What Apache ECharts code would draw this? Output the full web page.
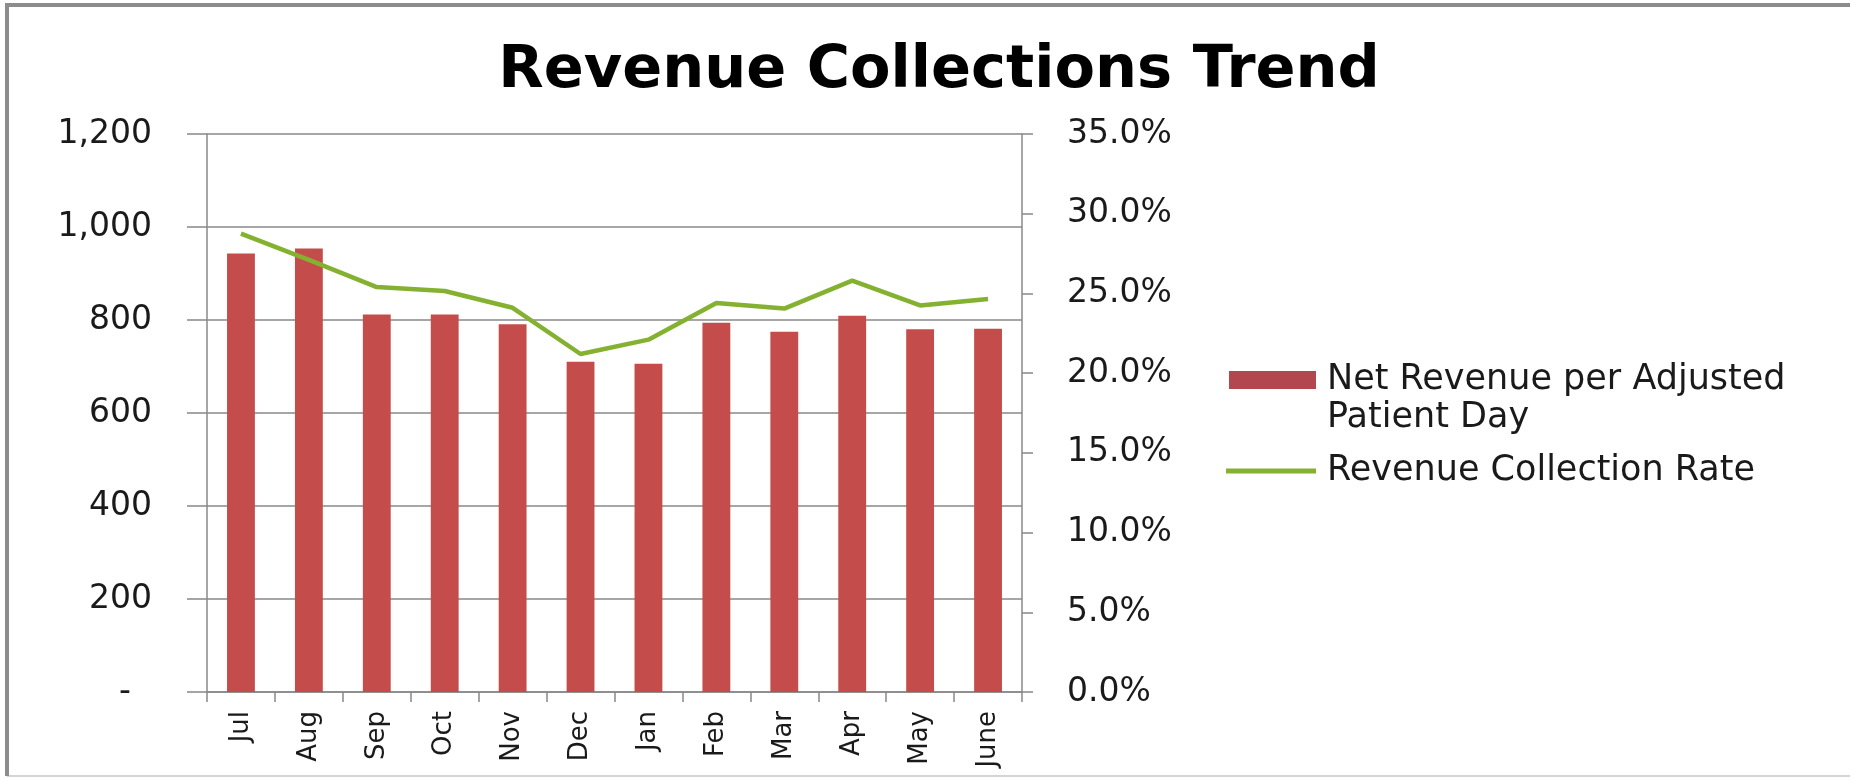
<!DOCTYPE html>
<html>
<head>
<meta charset="utf-8">
<title>Revenue Collections Trend</title>
<script src="https://cdn.jsdelivr.net/npm/echarts/dist/echarts.min.js"></script>
<style>
    html, body { margin: 0; padding: 0; background: #fff; }
    #revenue-chart { width: 1854px; height: 782px; }
</style>
</head>
<body>
<div id="revenue-chart"></div>
<script>
var months = ['Jul', 'Aug', 'Sep', 'Oct', 'Nov', 'Dec', 'Jan', 'Feb', 'Mar', 'Apr', 'May', 'June'];
// net revenue per adjusted patient day (left axis)
var netRevenue = [943, 954, 812, 812, 791, 710, 706, 794, 775, 809, 780, 781];
// revenue collection rate in % (right axis)
var collectionRate = [28.75, 27.1, 25.4, 25.15, 24.1, 21.2, 22.1, 24.4, 24.05, 25.8, 24.25, 24.65];
var leftTicks = [0, 200, 400, 600, 800, 1000, 1200];
var rightTicks = [0, 5, 10, 15, 20, 25, 30, 35];

var barName = 'Net Revenue per Adjusted Patient Day';
var lineName = 'Revenue Collection Rate';
var font = 'DejaVu Sans';

function initChart(){
    var myChart = echarts.init(document.getElementById('revenue-chart'));
    var option = {
        animation: false,
        backgroundColor: '#fff',
        title: {
            text: 'Revenue Collections Trend',
            left: 934,
            top: 37,
            textAlign: 'center',
            textStyle: {
                fontFamily: font,
                fontWeight: 'bold',
                fontSize: 59,
                color: '#000'
            }
        },
        legend: [
            {
                data: [{ name: barName, icon: 'rect', itemStyle: { color: '#b2474f' } }],
                orient: 'vertical',
                left: 1229,
                top: 323,
                padding: 0,
                itemWidth: 87,
                itemHeight: 18,
                formatter: function(){
                    // blank first line keeps the swatch level with the first text line
                    return ' \nNet Revenue per Adjusted\nPatient Day';
                },
                textStyle: {
                    fontFamily: font,
                    fontSize: 35,
                    lineHeight: 38,
                    color: '#1a1a1a',
                    padding: [0, 0, 0, 6]
                }
            },
            {
                data: [{ name: lineName, icon: 'rect' }],
                orient: 'vertical',
                left: 1226,
                top: 452,
                padding: 0,
                itemWidth: 90,
                itemHeight: 5,
                textStyle: {
                    fontFamily: font,
                    fontSize: 35,
                    lineHeight: 38,
                    color: '#1a1a1a',
                    padding: [0, 0, 0, 6]
                }
            }
        ],
        grid: {
            left: 207,
            right: 832,
            top: 134,
            bottom: 90,
            outerBoundsMode: 'none'
        },
        xAxis: {
            type: 'category',
            data: months,
            boundaryGap: true,
            axisLine: {
                lineStyle: { color: '#888', width: 1.5 }
            },
            axisTick: {
                show: true,
                length: 10,
                lineStyle: { color: '#888', width: 1.5 }
            },
            axisLabel: {
                rotate: 90,
                margin: 19,
                fontFamily: font,
                fontSize: 26,
                color: '#1a1a1a'
            }
        },
        yAxis: [
            {
                type: 'value',
                min: leftTicks[0],
                max: leftTicks[leftTicks.length - 1],
                interval: leftTicks[1] - leftTicks[0],
                axisLine: {
                    show: true,
                    lineStyle: { color: '#888', width: 1.5 }
                },
                axisTick: {
                    show: true,
                    length: 20,
                    lineStyle: { color: '#888', width: 1.5 }
                },
                splitLine: {
                    show: true,
                    lineStyle: { color: '#888', width: 1.5 }
                },
                axisLabel: {
                    margin: 55,
                    fontFamily: font,
                    fontSize: 33,
                    color: '#1a1a1a',
                    formatter: function(v){
                        if(v === 0){
                            return '-\u2007';
                        }
                        return v.toString().replace(/\B(?=(\d{3})+(?!\d))/g, ',');
                    }
                }
            },
            {
                type: 'value',
                position: 'right',
                min: rightTicks[0],
                max: rightTicks[rightTicks.length - 1],
                interval: rightTicks[1] - rightTicks[0],
                axisLine: {
                    show: true,
                    lineStyle: { color: '#888', width: 1.5 }
                },
                axisTick: {
                    show: true,
                    length: 11,
                    lineStyle: { color: '#888', width: 1.5 }
                },
                splitLine: { show: false },
                axisLabel: {
                    margin: 45,
                    fontFamily: font,
                    fontSize: 33,
                    color: '#1a1a1a',
                    formatter: function(v){
                        return v.toFixed(1) + '%';
                    }
                }
            }
        ],
        graphic: [
            {
                type: 'line',
                shape: { x1: 7, y1: 776, x2: 1850, y2: 776 },
                style: { stroke: '#d4d4d4', lineWidth: 2 }
            },
            {
                type: 'polyline',
                shape: { points: [[7, 776], [7, 5], [1850, 5]] },
                style: { fill: 'none', stroke: '#8c8c8c', lineWidth: 4 }
            }
        ],
        series: [
            {
                name: barName,
                type: 'bar',
                barWidth: '41%',
                itemStyle: {
                    color: '#c44d4b'
                },
                data: netRevenue
            },
            {
                name: lineName,
                type: 'line',
                yAxisIndex: 1,
                symbol: 'none',
                smooth: false,
                z: 5,
                lineStyle: {
                    color: '#84b230',
                    width: 4.5
                },
                itemStyle: {
                    color: '#84b230'
                },
                data: collectionRate
            }
        ]
    };
    myChart.setOption(option);
}

initChart();
</script>
</body>
</html>
